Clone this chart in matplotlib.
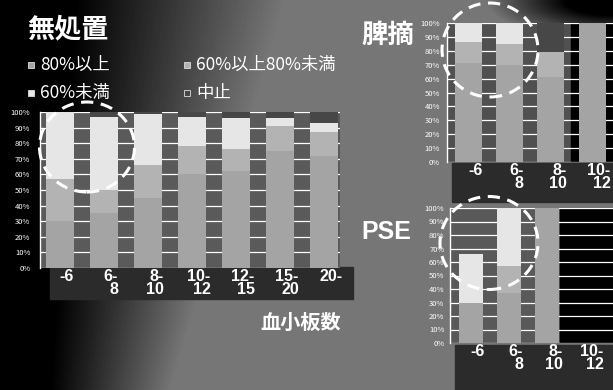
import numpy as np
import matplotlib.pyplot as plt
from matplotlib.patches import Ellipse, Rectangle
from matplotlib.transforms import ScaledTranslation

plt.rcParams['font.family'] = ['Noto Sans CJK JP', 'DejaVu Sans']

W, H = 613, 390

# 無処置
cats_main = ['-6', '6-\n8', '8-\n10', '10-\n12', '12-\n15', '15-\n20', '20-']
over80_main = [30, 35, 45, 60, 62, 75, 72]
mid_main = [27, 15, 21, 18, 14, 16, 15]
under60_main = [43, 47, 33, 19, 20, 5, 6]
stop_main = [0, 3, 1, 3, 4, 4, 7]

# 脾摘
cats_spl = ['-6', '6-\n8', '8-\n10', '10-\n12']
over80_spl = [71, 70, 61, 100]
mid_spl = [15, 15, 18, 0]
under60_spl = [14, 15, 0, 0]
stop_spl = [0, 0, 21, 0]

# PSE
cats_pse = ['-6', '6-\n8', '8-\n10', '10-\n12']
over80_pse = [30, 37, 100, 0]
mid_pse = [0, 20, 0, 0]
under60_pse = [36, 43, 0, 0]
stop_pse = [0, 0, 0, 0]

names = ['80%以上', '60%以上80%未満', '60%未満', '中止']
colors = ['#a4a4a4', '#b3b3b3', '#e6e6e6', '#474747']

fig = plt.figure(figsize=(W / 100, H / 100), dpi=100)

# slide background: black on the left, flat grey towards the right
bg = fig.add_axes([0, 0, 1, 1], zorder=-10)
yy, xx = np.mgrid[0:H, 0:W]
x0 = 75 - 25 * (yy / H)
span = 210 - 90 * (yy / H)
v = 118 * np.clip((xx - x0) / span, 0, 1)
corner = np.sqrt(((xx - W) / 80.0) ** 2 + (yy / 25.0) ** 2)
v *= np.clip(corner - 0.6, 0, 1)
bg.imshow(v, cmap='gray', vmin=0, vmax=255, aspect='auto',
          extent=[0, W, H, 0])
bg.axis('off')


def px_axes(x0, y_top, x1, y_bot, face):
    return fig.add_axes([x0 / W, 1 - y_bot / H, (x1 - x0) / W, (y_bot - y_top) / H],
                        facecolor=face)


def band(x0, y_top, x1, y_bot):
    fig.add_artist(Rectangle((x0 / W, 1 - y_bot / H), (x1 - x0) / W, (y_bot - y_top) / H,
                             transform=fig.transFigure, color='#2b2b2b', zorder=-1))


def stacked(ax, cats, series, width, xlim, dx=7, ypad=5):
    x = np.arange(len(cats))
    bottom = np.zeros(len(cats))
    for vals, col in zip(series, colors):
        ax.bar(x, vals, width, bottom=bottom, color=col, edgecolor='none', zorder=2)
        bottom += np.array(vals)
    ax.set_xlim(*xlim)
    ax.set_ylim(0, 100)
    ax.set_axisbelow(True)
    ax.yaxis.grid(True, color='white', lw=0.9)
    ax.set_yticks(range(0, 101, 10), [f'{t}%' for t in range(0, 101, 10)])
    ax.tick_params(axis='y', length=0, labelsize=5.5, labelcolor='white', pad=ypad)
    ax.set_xticks(x, cats)
    ax.tick_params(axis='x', length=0, pad=1)
    for lab in ax.get_xticklabels():
        lab.set_fontsize(11.5)
        lab.set_fontweight('bold')
        lab.set_color('white')
        lab.set_family('Liberation Sans')
        lab.set_multialignment('right')
        lab.set_linespacing(0.8)
        lab.set_transform(lab.get_transform() + ScaledTranslation(dx / 100, 0, fig.dpi_scale_trans))
    for s in ['top', 'right', 'bottom']:
        ax.spines[s].set_visible(False)
    ax.spines['left'].set_color('white')
    ax.spines['left'].set_linewidth(1)


# 無処置
band(50, 267, 353, 299)
ax1 = px_axes(40, 112, 340, 268, '#5a5a5a')
stacked(ax1, cats_main, [over80_main, mid_main, under60_main, stop_main],
        0.64, (-0.455, 6.36), ypad=7)

# 脾摘
band(452, 163, W, 202)
ax2 = px_axes(447, 23, 633, 162, '#505050')
ax2.axvspan(2.5, 4.0, color='black', zorder=0)
stacked(ax2, cats_spl, [over80_spl, mid_spl, under60_spl, stop_spl],
        0.65, (-0.51, 3.99), ypad=5)

# PSE
band(455, 345, W, H)
ax3 = px_axes(450, 208, 640, 343, '#595959')
ax3.axvspan(2.35, 4.45, color='black', zorder=0)
stacked(ax3, cats_pse, [over80_pse, mid_pse, under60_pse, stop_pse],
        0.65, (-0.55, 4.45), ypad=4)

# titles
fig.text(27 / W, 1 - 29 / H, '無処置', fontsize=19.5, fontweight='bold', color='white', va='center')
fig.text(361 / W, 1 - 35 / H, '脾摘', fontsize=19, fontweight='bold', color='white', va='center')
fig.text(361 / W, 1 - 232 / H, 'PSE', fontsize=18, fontweight='bold', color='white',
         va='center', family='Liberation Sans')
fig.text(301 / W, 1 - 322 / H, '血小板数', fontsize=14.5, fontweight='bold', color='white',
         va='center', ha='center')

# legend
leg_pos = [(28, 65), (184, 65), (28, 93), (184, 93)]
for (lx, ly), name, col in zip(leg_pos, names, colors):
    fig.add_artist(Rectangle((lx / W, 1 - (ly + 3) / H), 6 / W, 6 / H, transform=fig.transFigure,
                             facecolor=col, edgecolor='#dddddd', lw=0.6))
    fig.text((lx + 12) / W, 1 - ly / H, name, fontsize=12.5, color='white', va='center')

# dashed circles
for cx, cy, w, h in [(87, 147, 95, 90), (490, 50, 96, 94), (489, 243, 98, 93)]:
    fig.add_artist(Ellipse((cx / W, 1 - cy / H), w / W, h / H, transform=fig.transFigure,
                           fill=False, edgecolor='white', lw=2.2, ls=(0, (4, 2.5)), zorder=5))

fig.savefig('out.png', dpi=100)
